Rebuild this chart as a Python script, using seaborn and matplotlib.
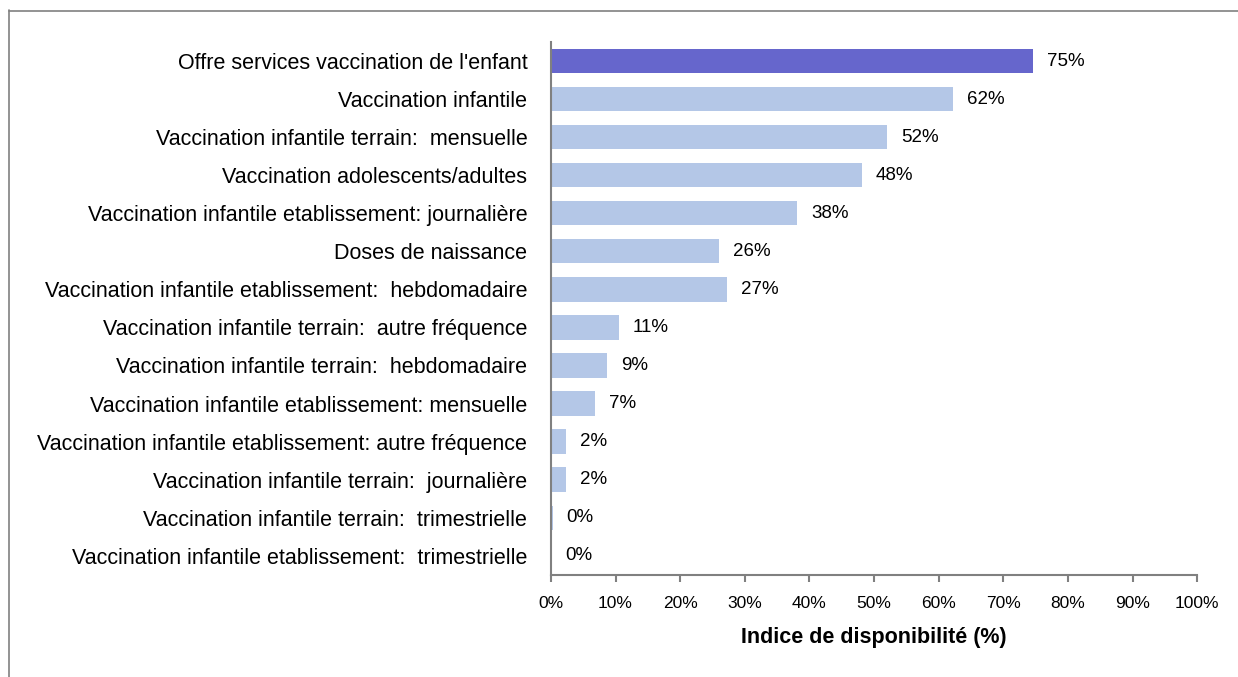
import matplotlib
matplotlib.use('Agg')
import matplotlib.pyplot as plt
import seaborn as sns
import pandas as pd
from matplotlib.ticker import PercentFormatter
from matplotlib.lines import Line2D

categories = [
    "Offre services vaccination de l'enfant",
    "Vaccination infantile",
    "Vaccination infantile terrain:  mensuelle",
    "Vaccination adolescents/adultes",
    "Vaccination infantile etablissement: journalière",
    "Doses de naissance",
    "Vaccination infantile etablissement:  hebdomadaire",
    "Vaccination infantile terrain:  autre fréquence",
    "Vaccination infantile terrain:  hebdomadaire",
    "Vaccination infantile etablissement: mensuelle",
    "Vaccination infantile etablissement: autre fréquence",
    "Vaccination infantile terrain:  journalière",
    "Vaccination infantile terrain:  trimestrielle",
    "Vaccination infantile etablissement:  trimestrielle",
]
values = [74.6, 62.2, 52.0, 48.1, 38.1, 26.0, 27.2, 10.5, 8.7, 6.8, 2.3, 2.3, 0.3, 0.0]
value_labels = ['75%', '62%', '52%', '48%', '38%', '26%', '27%', '11%', '9%', '7%', '2%', '2%', '0%', '0%']
highlight = "Offre services vaccination de l'enfant"

df = pd.DataFrame({'categorie': categories, 'valeur': values})
palette = {c: ('#6666CC' if c == highlight else '#B4C7E7') for c in categories}

sns.set_style('white')
plt.rcParams['font.family'] = ['Liberation Sans', 'DejaVu Sans']
plt.rcParams['text.color'] = 'black'
plt.rcParams['xtick.color'] = 'black'
plt.rcParams['ytick.color'] = 'black'
plt.rcParams['axes.labelcolor'] = 'black'

fig = plt.figure(figsize=(12.38, 6.77), dpi=100)
ax = fig.add_axes([0.445, 0.151, 0.522, 0.787])

sns.barplot(data=df, y='categorie', x='valeur', hue='categorie', palette=palette,
            order=categories, width=0.64, legend=False, ax=ax, saturation=1,
            linewidth=0)

for container, lab in zip(ax.containers, value_labels):
    ax.bar_label(container, labels=[lab], padding=10, fontsize=13.5, color='black')

ax.set_xlim(0, 100)
ax.set_ylim(len(categories) - 0.5, -0.5)
ax.set_xticks(range(0, 101, 10))
ax.xaxis.set_major_formatter(PercentFormatter(decimals=0))
ax.tick_params(axis='x', labelsize=12.5, length=5, width=1.5, color='#808080',
               labelcolor='black', direction='out', bottom=True, pad=10)
ax.tick_params(axis='y', labelsize=15.5, length=0, pad=17, labelcolor='black')
ax.set_ylabel('')
ax.set_xlabel('Indice de disponibilité (%)', fontsize=15.5, fontweight='bold', labelpad=12)

for s in ['top', 'right']:
    ax.spines[s].set_visible(False)
for s in ['left', 'bottom']:
    ax.spines[s].set_color('#808080')
    ax.spines[s].set_linewidth(1.5)

# figure frame (left and top edges)
fig.add_artist(Line2D([0.0075, 0.0075], [0.0, 0.985], transform=fig.transFigure, color='#808080', lw=1.2))
fig.add_artist(Line2D([0.0075, 1.0], [0.984, 0.984], transform=fig.transFigure, color='#808080', lw=1.2))

plt.savefig('out.png', dpi=100)
